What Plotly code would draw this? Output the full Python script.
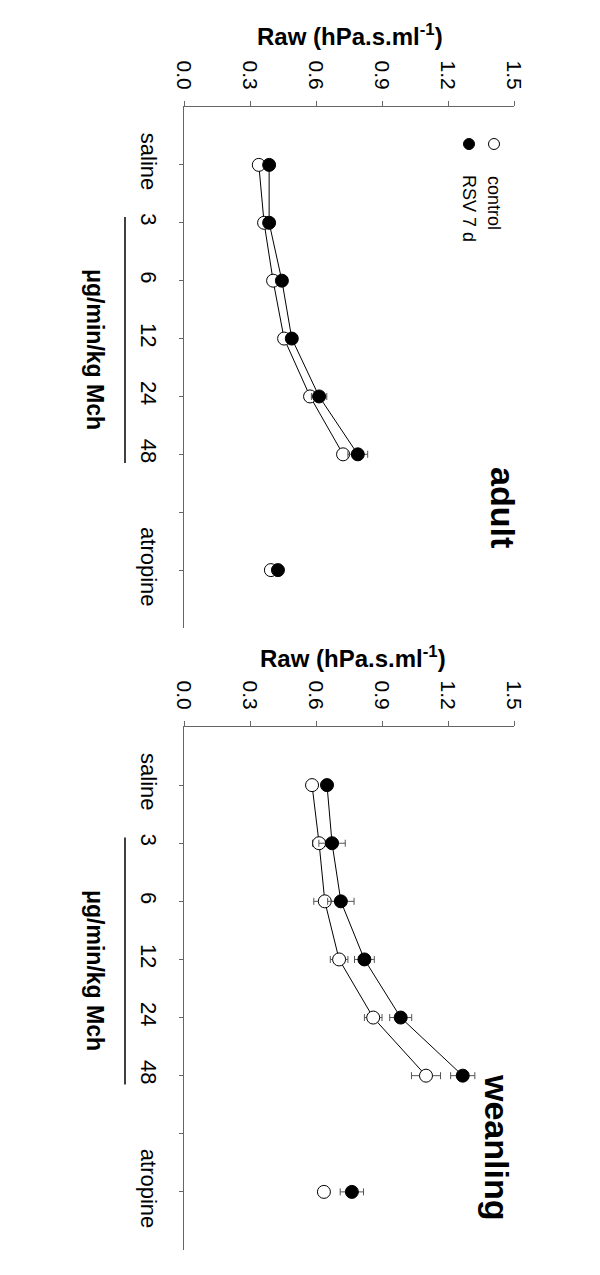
import plotly.graph_objects as go

# categories (position 7 is an empty slot between 48 and atropine)
cat_pos = [1, 2, 3, 4, 5, 6, 7, 8]
cat_labels = ["saline", "3", "6", "12", "24", "48", "", "atropine"]

# adult
adult_control = [0.34, 0.364, 0.405, 0.455, 0.573, 0.723, None, 0.395]
adult_control_err = [0.01, 0.01, 0.012, 0.012, 0.015, 0.02, 0, 0.01]
adult_rsv = [0.387, 0.387, 0.445, 0.49, 0.614, 0.79, None, 0.427]
adult_rsv_err = [0.01, 0.01, 0.015, 0.02, 0.035, 0.045, 0, 0.012]

# weanling
wean_control = [0.582, 0.614, 0.64, 0.705, 0.86, 1.10, None, 0.636]
wean_control_err = [0.01, 0.03, 0.05, 0.04, 0.04, 0.066, 0, 0.01]
wean_rsv = [0.65, 0.673, 0.713, 0.82, 0.985, 1.267, None, 0.763]
wean_rsv_err = [0.01, 0.06, 0.06, 0.045, 0.05, 0.055, 0, 0.053]

raw_ticks = [0.0, 0.3, 0.6, 0.9, 1.2, 1.5]

FONT = "Liberation Sans, Arial, sans-serif"
W, H = 600, 1275
OFF = 8  # page body margin
L, R, T, B = 184 - OFF, 94, 107 - OFF, 33
PW, PH = W - L - R, H - T - B


def px(x, y):
    # page pixel -> paper coords
    return (x - OFF - L) / PW, (H - B - (y - OFF)) / PH


fig = go.Figure()


def add_panel(ctrl, ctrl_err, rsv, rsv_err, xa, ya):
    fig.add_trace(go.Scatter(
        x=ctrl, y=cat_pos, xaxis=xa, yaxis=ya, mode="lines+markers",
        line=dict(color="black", width=1), connectgaps=False,
        marker=dict(size=13, color="white", line=dict(color="black", width=1)),
        error_x=dict(type="data", array=ctrl_err, color="#555", thickness=1, width=3.5),
        showlegend=False))
    fig.add_trace(go.Scatter(
        x=rsv, y=cat_pos, xaxis=xa, yaxis=ya, mode="lines+markers",
        line=dict(color="black", width=1), connectgaps=False,
        marker=dict(size=13, color="black", line=dict(color="black", width=1)),
        error_x=dict(type="data", array=rsv_err, color="#555", thickness=1, width=3.5),
        showlegend=False))


add_panel(adult_control, adult_control_err, adult_rsv, adult_rsv_err, "x", "y")
add_panel(wean_control, wean_control_err, wean_rsv, wean_rsv_err, "x2", "y2")

top_dom = [px(0, 628)[1], 1.0]
bot_dom = [0.0, px(0, 727)[1]]

xax = dict(range=[0, 1.5], side="top", tickvals=raw_ticks, tickformat=".1f",
           tickangle=90, ticks="outside", ticklen=5, tickcolor="#666",
           showline=True, linecolor="#666", linewidth=1, showgrid=False,
           zeroline=False, automargin=False, ticklabelstandoff=4,
           tickfont=dict(size=21, color="black", family=FONT))
yax = dict(range=[9, 0], tickvals=cat_pos, ticktext=cat_labels, tickangle=90,
           ticks="outside", ticklen=4, tickcolor="#666", showline=True,
           linecolor="#666", linewidth=1, showgrid=False, zeroline=False,
           automargin=False, ticklabelstandoff=12,
           tickfont=dict(size=22, color="black", family=FONT))

fig.update_layout(
    width=W, height=H, margin=dict(l=L, r=R, t=T, b=B, autoexpand=False),
    paper_bgcolor="white", plot_bgcolor="white",
    font=dict(family=FONT, color="black"),
    xaxis=dict(xax, anchor="y"),
    yaxis=dict(yax, domain=top_dom, anchor="x"),
    xaxis2=dict(xax, anchor="y2"),
    yaxis2=dict(yax, domain=bot_dom, anchor="x2"),
)


def note(tx, ty, text, size, angle=0):
    x, y = px(tx, ty)
    return dict(x=x, y=y, xref="paper", yref="paper", showarrow=False,
                xanchor="center", yanchor="middle", text=text, textangle=angle,
                font=dict(size=size, family=FONT))


ann = []
# axis titles
for (tx, ty) in [(350, 35), (353, 657)]:
    ann.append(note(tx, ty, "<b>Raw (hPa.s.ml<sup>-1</sup>)</b>", 24))
# dose labels
for (tx, ty) in [(95, 349), (95, 970)]:
    ann.append(note(tx, ty, "<b>\u03bcg/min/kg Mch</b>", 23, 90))
# panel labels
ann.append(note(503, 507, "<b>adult</b>", 34, 90))
ann.append(note(497, 1147, "<b>weanling</b>", 34, 90))
# legend text
ann.append(note(494, 203, "control", 18, 90))
ann.append(note(469, 208, "RSV 7 d", 18, 90))
fig.update_layout(annotations=ann)

shapes = []
# legend symbols
for (tx, ty, fill) in [(494, 144, "white"), (469, 144, "black")]:
    x, y = px(tx, ty)
    shapes.append(dict(type="circle", xref="paper", yref="paper",
                       xsizemode="pixel", ysizemode="pixel", xanchor=x, yanchor=y,
                       x0=-5.5, x1=5.5, y0=-5.5, y1=5.5,
                       fillcolor=fill, line=dict(color="black", width=1)))
# dose brackets
for yref in ["y", "y2"]:
    bx = px(125, 0)[0]
    shapes.append(dict(type="line", xref="paper", yref=yref, x0=bx, x1=bx,
                       y0=1.9, y1=6.15, line=dict(color="black", width=1.5)))
fig.update_layout(shapes=shapes)

fig.write_html("out.html")
